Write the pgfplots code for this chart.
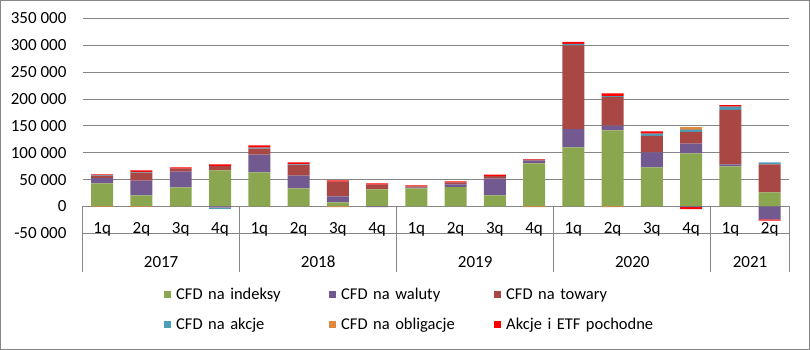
\documentclass[border=0pt]{standalone}
\usepackage{pgfplots}
\pgfplotsset{compat=1.18}
\usepackage{pgfplotstable}
\usepackage{fontspec}
\setmainfont{Carlito}

\definecolor{cInd}{HTML}{8AA64E}
\definecolor{cWal}{HTML}{725A91}
\definecolor{cTow}{HTML}{A94744}
\definecolor{cAkc}{HTML}{4B9DB8}
\definecolor{cObl}{HTML}{E0893E}
\definecolor{cPoc}{HTML}{FF0000}
\definecolor{gridc}{HTML}{868686}

% positive parts (stacked upwards)
\pgfplotstableread{
x ind wal tow akc obl poc
0 43000 9800 4000 1000 0 2000
1 20500 27400 15000 1500 0 2800
2 35500 29200 5500 0 0 2600
3 67200 0 8000 0 0 3000
4 63400 33000 11000 2000 0 4400
5 33600 23600 19800 1500 0 3500
6 7500 11200 27300 0 0 2500
7 31700 0 8700 0 0 2500
8 33400 1500 2500 0 0 1600
9 36100 5000 3700 0 0 2000
10 20500 31100 5000 0 0 2500
11 80200 5000 1900 0 0 1000
12 110100 33600 156000 3000 0 3500
13 141800 8800 53400 1500 0 5000
14 72800 28000 30400 4400 0 4300
15 98900 18100 21700 4400 5600 0
16 74600 3800 101300 6300 0 2500
17 26100 0 52300 3700 0 0
}\pos

% negative parts (stacked downwards)
\pgfplotstableread{
x wal akc obl poc
0 0 0 -1000 0
1 0 0 -1000 0
2 0 0 0 0
3 -2000 -3000 0 0
4 0 0 0 0
5 0 0 0 0
6 0 0 -1500 0
7 -1500 0 0 0
8 0 0 0 0
9 0 0 0 0
10 0 0 0 0
11 0 0 -1500 0
12 0 0 0 0
13 0 0 -1500 0
14 0 0 0 0
15 -1500 0 0 -3500
16 0 0 0 0
17 -24000 0 0 -2500
}\negt

\pgfplotsset{
  base/.style={
    at={(82.6bp,116.7bp)}, anchor=south west,
    scale only axis, width=706.7bp, height=214.9bp,
    xmin=-0.5, xmax=17.5, ymin=-50000, ymax=350000,
    scaled y ticks=false, scaled x ticks=false,
    ybar stacked, bar width=0.56,
  },
  sqlegend/.style={legend image code/.code={\fill[##1] (0bp,-2.95bp) rectangle (7.3bp,4.35bp);}},
}

\begin{document}
\begin{tikzpicture}
\useasboundingbox (0,0) rectangle (810bp,350bp);
\begin{axis}[base, clip=false,
  axis line style={draw=none},
  major tick length=0pt,
  ymajorgrids, grid style={color=gridc, line width=0.9bp},
  ytick={-50000,0,...,350000},
  yticklabels={-50 000,0,50 000,100 000,150 000,200 000,250 000,300 000,350 000},
  yticklabel style={anchor=east, inner sep=0pt, xshift=-16bp, font=\fontsize{17bp}{20bp}\selectfont},
  xtick={0,...,17},
  xticklabels={1q,2q,3q,4q,1q,2q,3q,4q,1q,2q,3q,4q,1q,2q,3q,4q,1q,2q},
  xticklabel style={anchor=base, inner sep=0pt, font=\fontsize{17bp}{20bp}\selectfont},
  sqlegend,
  legend columns=3,
  legend cell align=left,
  legend style={at={(0.1142,-0.2513)}, anchor=north west, draw=none, fill=none,
    inner sep=0pt, row sep=14bp,
    font=\fontsize{16.5bp}{19bp}\selectfont,
    nodes={inner sep=0pt, text width=152.3bp, text height=12bp, text depth=4bp},
    /tikz/every odd column/.append style={column sep=5.4bp},
    /tikz/every even column/.append style={column sep=0bp}},
]
\addplot[fill=cInd, draw=none, sqlegend] table[x=x, y=ind] {\pos};
\addlegendentry{CFD na indeksy}
\addplot[fill=cWal, draw=none, sqlegend] table[x=x, y=wal] {\pos};
\addlegendentry{CFD na waluty}
\addplot[fill=cTow, draw=none, sqlegend] table[x=x, y=tow] {\pos};
\addlegendentry{CFD na towary}
\addplot[fill=cAkc, draw=none, sqlegend] table[x=x, y=akc] {\pos};
\addlegendentry{CFD na akcje}
\addplot[fill=cObl, draw=none, sqlegend] table[x=x, y=obl] {\pos};
\addlegendentry{CFD na obligacje}
\addplot[fill=cPoc, draw=none, sqlegend] table[x=x, y=poc] {\pos};
\addlegendentry{Akcje i ETF pochodne}

\foreach \s in {-0.5,3.5,7.5,11.5,15.5,17.5}{
  \edef\tmp{\noexpand\draw[gridc, line width=0.9bp] (axis cs:\s,0) -- (axis cs:\s,-122800);}\tmp
}
\foreach \c/\yr in {1.5/2017,5.5/2018,9.5/2019,13.5/2020,16.5/2021}{
  \edef\tmp{\noexpand\node[anchor=base, inner sep=0pt, font=\noexpand\fontsize{17bp}{20bp}\noexpand\selectfont] at (axis cs:\c,-113000) {\yr};}\tmp
}
\end{axis}

\begin{axis}[base, hide axis]
\addplot[fill=cWal, draw=none] table[x=x, y=wal] {\negt};
\addplot[fill=cAkc, draw=none] table[x=x, y=akc] {\negt};
\addplot[fill=cObl, draw=none] table[x=x, y=obl] {\negt};
\addplot[fill=cPoc, draw=none] table[x=x, y=poc] {\negt};
\end{axis}

\draw[gridc, line width=1bp] (0.5bp,0.5bp) rectangle (809.5bp,349.5bp);
\end{tikzpicture}
\end{document}
